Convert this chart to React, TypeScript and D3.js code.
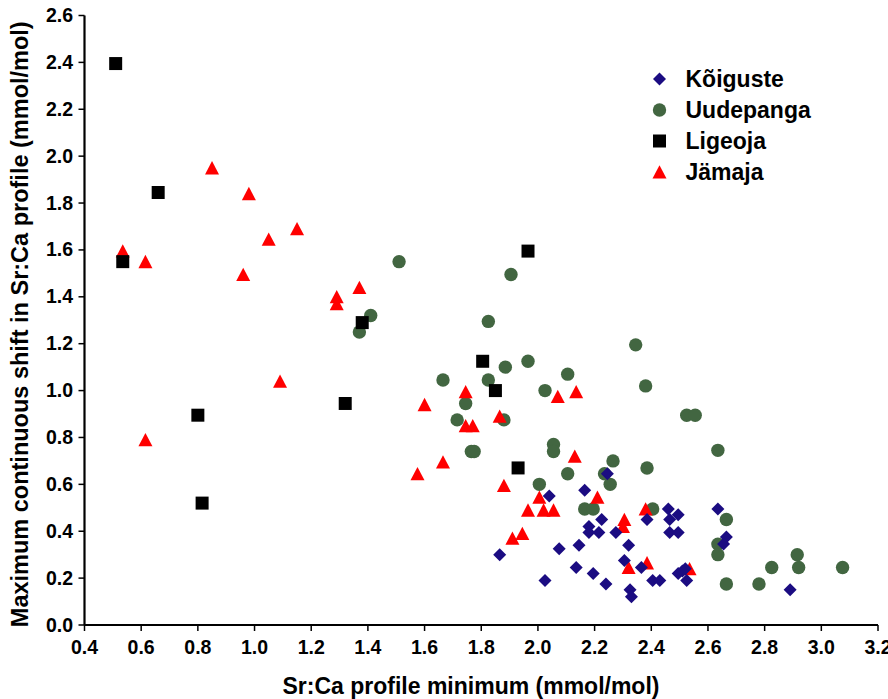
import * as d3 from "d3";

// series values: [Sr:Ca minimum, max continuous shift]
const koiguste: [number, number][] = [
  [1.865, 0.3], [2.04, 0.55], [2.165, 0.575], [2.245, 0.645], [2.225, 0.45],
  [2.18, 0.42], [2.18, 0.395], [2.215, 0.395], [2.275, 0.395], [2.385, 0.45],
  [2.46, 0.495], [2.465, 0.45], [2.465, 0.395], [2.495, 0.47], [2.495, 0.395],
  [2.635, 0.495], [2.665, 0.375], [2.655, 0.345], [2.145, 0.34], [2.075, 0.325],
  [2.32, 0.34], [2.305, 0.275], [2.365, 0.245], [2.135, 0.245], [2.025, 0.19],
  [2.195, 0.22], [2.24, 0.175], [2.325, 0.15], [2.33, 0.12], [2.405, 0.19],
  [2.43, 0.19], [2.495, 0.22], [2.52, 0.24], [2.51, 0.23], [2.525, 0.19],
  [2.89, 0.15],
];

const uudepanga: [number, number][] = [
  [1.51, 1.55], [1.41, 1.32], [1.37, 1.25], [1.905, 1.495], [1.825, 1.295],
  [2.345, 1.195], [1.885, 1.1], [1.965, 1.125], [1.665, 1.045], [1.825, 1.045],
  [2.105, 1.07], [2.025, 1.0], [2.38, 1.02], [1.745, 0.945], [1.715, 0.875],
  [1.88, 0.875], [1.765, 0.74], [1.775, 0.74], [2.055, 0.77], [2.055, 0.74],
  [2.265, 0.7], [2.385, 0.67], [2.105, 0.645], [2.235, 0.645], [2.255, 0.6],
  [2.005, 0.6], [2.165, 0.495], [2.195, 0.495], [2.405, 0.495], [2.525, 0.895],
  [2.555, 0.895], [2.635, 0.745], [2.665, 0.45], [2.635, 0.345], [2.635, 0.3],
  [2.825, 0.245], [2.915, 0.3], [2.92, 0.245], [3.075, 0.245], [2.665, 0.175],
  [2.78, 0.175],
];

const ligeoja: [number, number][] = [
  [0.51, 2.395], [0.66, 1.845], [0.535, 1.55], [0.8, 0.895], [0.815, 0.52],
  [1.32, 0.945], [1.38, 1.29], [1.805, 1.125], [1.85, 1.0], [1.93, 0.67],
  [1.965, 1.595],
];

const jamaja: [number, number][] = [
  [0.85, 1.95], [0.98, 1.84], [1.05, 1.645], [1.15, 1.69], [0.535, 1.595],
  [0.615, 1.55], [0.96, 1.495], [1.37, 1.44], [1.29, 1.4], [1.29, 1.37],
  [1.09, 1.04], [0.615, 0.79], [1.6, 0.94], [1.575, 0.645], [1.745, 0.995],
  [1.865, 0.89], [1.745, 0.85], [1.77, 0.85], [2.07, 0.975], [2.135, 0.995],
  [1.665, 0.695], [1.88, 0.595], [2.13, 0.72], [2.005, 0.545], [2.21, 0.545],
  [1.965, 0.49], [2.02, 0.49], [2.055, 0.49], [1.945, 0.39], [1.91, 0.37],
  [2.305, 0.45], [2.3, 0.42], [2.38, 0.495], [2.385, 0.265], [2.32, 0.245],
  [2.535, 0.24],
];

const xTicks = d3.range(0.4, 3.21, 0.2);
const yTicks = d3.range(0, 2.61, 0.2);

const xLabel = "Sr:Ca profile minimum (mmol/mol)";
const yLabel = "Maximum continuous shift in Sr:Ca profile (mmol/mol)";

type Shape = "diamond" | "circle" | "square" | "triangle";

const series: { name: string; data: [number, number][]; shape: Shape; color: string }[] = [
  { name: "Kõiguste", data: koiguste, shape: "diamond", color: "#1b0c82" },
  { name: "Uudepanga", data: uudepanga, shape: "circle", color: "#426641" },
  { name: "Ligeoja", data: ligeoja, shape: "square", color: "#000000" },
  { name: "Jämaja", data: jamaja, shape: "triangle", color: "#ff0000" },
];

const W = 888;
const H = 699;
const m = { left: 84.5, right: 10, top: 15.5, bottom: 74 };

const x = d3.scaleLinear().domain([0.4, 3.2]).range([m.left, W - m.right]);
const y = d3.scaleLinear().domain([0, 2.6]).range([H - m.bottom, m.top]);

// marker outline centred at 0,0
function markerPath(shape: Shape): string {
  const p = d3.path();
  if (shape === "diamond") {
    p.moveTo(0, -6.5); p.lineTo(6.5, 0); p.lineTo(0, 6.5); p.lineTo(-6.5, 0); p.closePath();
  } else if (shape === "circle") {
    p.arc(0, 0, 6.7, 0, 2 * Math.PI);
  } else if (shape === "square") {
    p.rect(-6.5, -6.5, 13, 13);
  } else {
    p.moveTo(0, -6.8); p.lineTo(7, 6.5); p.lineTo(-7, 6.5); p.closePath();
  }
  return p.toString();
}

const fmt = d3.format(".1f");
const font = "'Liberation Sans', Arial, sans-serif";

export default function App() {
  // stacking as in the reference: circles at the bottom, diamonds on top
  const ordered = [series[1], series[3], series[2], series[0]];
  return (
    <div style={{ position: "absolute", left: 0, top: 0 }}>
      <svg width={W} height={H} style={{ display: "block", background: "#fff" }} fontFamily={font}>
        {/* axes */}
        <line x1={x(0.4)} x2={x(3.2)} y1={y(0)} y2={y(0)} stroke="#000" strokeWidth={2.2} />
        <line x1={x(0.4)} x2={x(0.4)} y1={y(0)} y2={y(2.6)} stroke="#000" strokeWidth={2.2} />
        {xTicks.map((t) => (
          <g key={"x" + t}>
            <line x1={x(t)} x2={x(t)} y1={y(0)} y2={y(0) + 6} stroke="#000" strokeWidth={1.5} />
            <text x={x(t)} y={654} textAnchor="middle" fontSize={19.5} fontWeight="bold">
              {fmt(t)}
            </text>
          </g>
        ))}
        {yTicks.map((t) => (
          <g key={"y" + t}>
            <line x1={x(0.4) - 6} x2={x(0.4)} y1={y(t)} y2={y(t)} stroke="#000" strokeWidth={1.5} />
            <text x={73} y={y(t) + 6.5} textAnchor="end" fontSize={19.5} fontWeight="bold">
              {fmt(t)}
            </text>
          </g>
        ))}
        <text x={471} y={694} textAnchor="middle" fontSize={23} fontWeight="bold">
          {xLabel}
        </text>
        <text
          transform={`translate(28,${(y(0) + y(2.6)) / 2 + 4}) rotate(-90)`}
          textAnchor="middle"
          fontSize={23.5}
          fontWeight="bold"
        >
          {yLabel}
        </text>

        {/* points */}
        {ordered.map((s) => (
          <g key={s.name} fill={s.color}>
            {s.data.map((d, i) => (
              <path key={i} d={markerPath(s.shape)} transform={`translate(${x(d[0])},${y(d[1])})`} />
            ))}
          </g>
        ))}

        {/* legend */}
        {series.map((s, i) => (
          <g key={"leg" + s.name} transform={`translate(659.5,${79 + i * 31})`}>
            <path d={markerPath(s.shape)} fill={s.color} />
            <text x={26} y={8} fontSize={23} fontWeight="bold">
              {s.name}
            </text>
          </g>
        ))}
      </svg>
    </div>
  );
}
